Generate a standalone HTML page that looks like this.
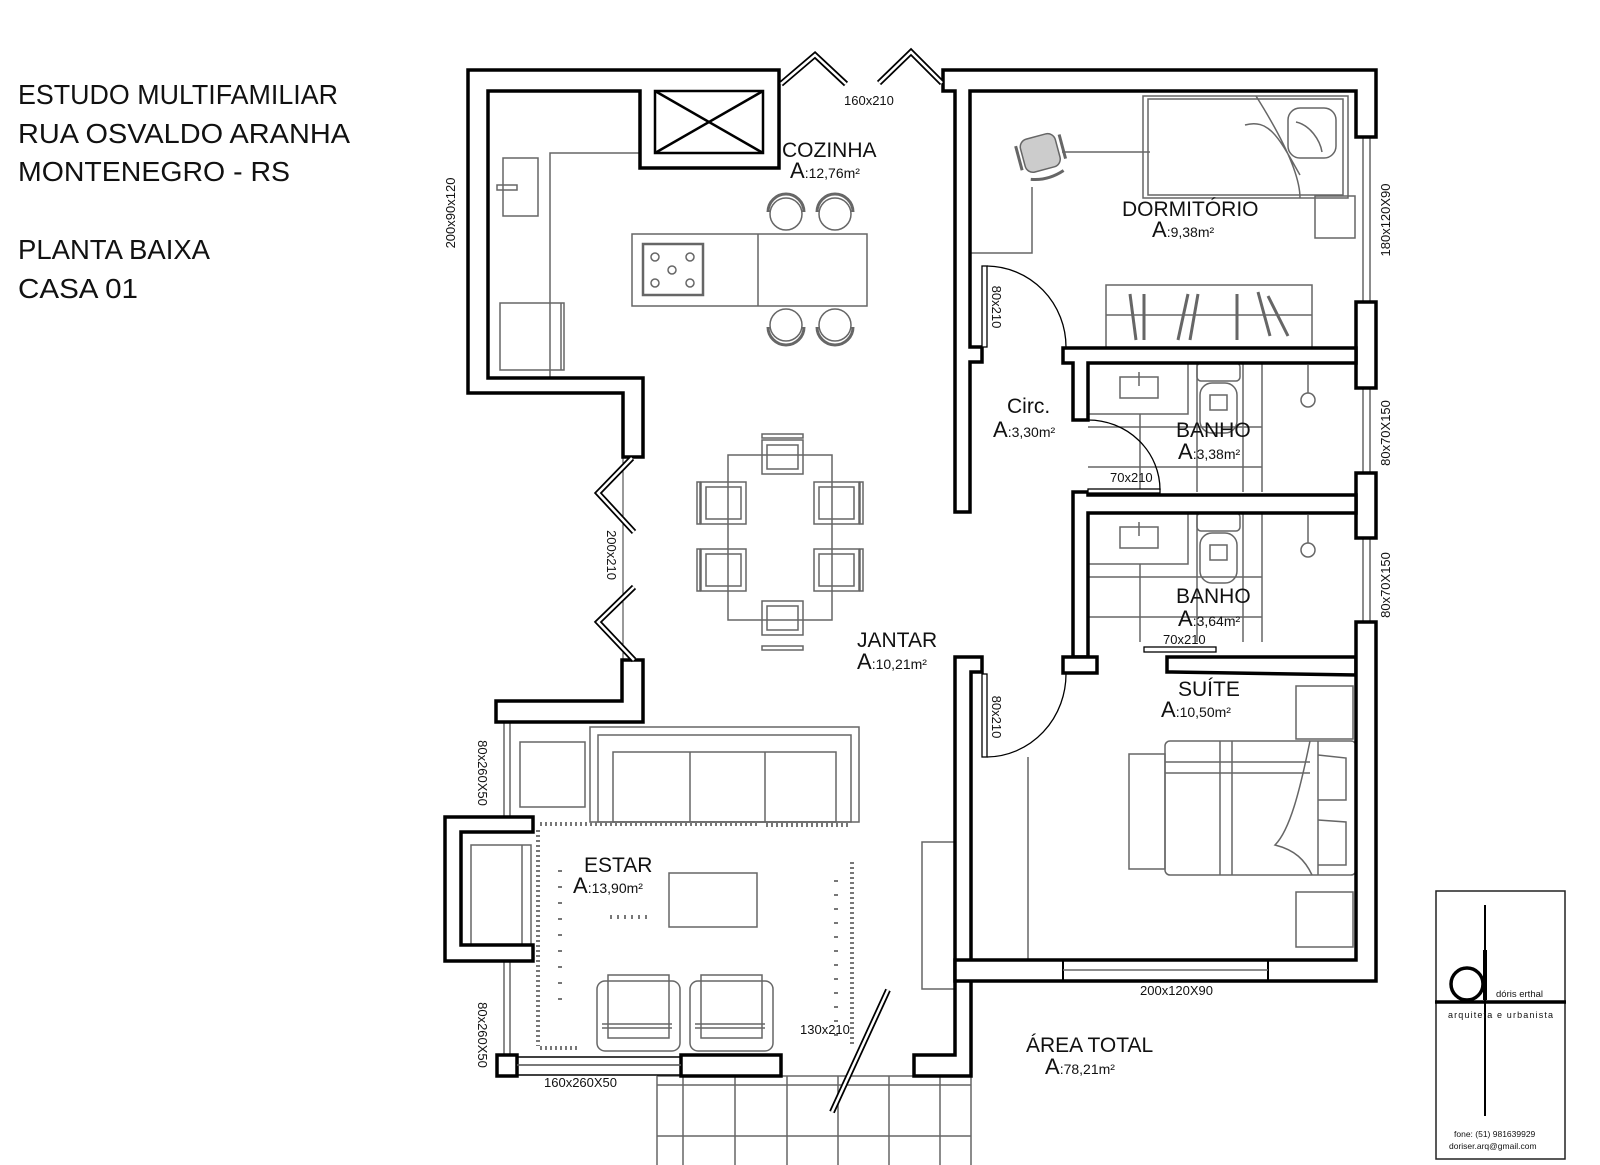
<!DOCTYPE html>
<html><head><meta charset="utf-8"><style>
html,body{margin:0;padding:0;background:#fff;}
svg{display:block}
text{font-family:"Liberation Sans",sans-serif;fill:#111}
</style></head><body>
<svg width="1600" height="1165" viewBox="0 0 1600 1165" xmlns="http://www.w3.org/2000/svg">
<!-- Title -->
<g font-size="28">
<text x="18" y="104" textLength="320" lengthAdjust="spacingAndGlyphs">ESTUDO MULTIFAMILIAR</text>
<text x="18" y="143" textLength="332" lengthAdjust="spacingAndGlyphs">RUA OSVALDO ARANHA</text>
<text x="18" y="181" textLength="272" lengthAdjust="spacingAndGlyphs">MONTENEGRO - RS</text>
<text x="18" y="259" textLength="192" lengthAdjust="spacingAndGlyphs">PLANTA BAIXA</text>
<text x="18" y="298" textLength="120" lengthAdjust="spacingAndGlyphs">CASA 01</text>
</g>

<!-- furniture (gray) -->
<g fill="none" stroke="#666" stroke-width="1.5">
<!-- kitchen -->
<polyline points="640,153 550,153 550,378"/>
<rect x="503" y="158" width="35" height="58"/>
<rect x="497" y="185" width="20" height="5"/>
<rect x="500" y="303" width="64" height="67"/>
<line x1="561" y1="303" x2="561" y2="370"/>
<rect x="632" y="234" width="235" height="72"/>
<line x1="758" y1="234" x2="758" y2="306"/>
<rect x="643" y="244" width="60" height="51" stroke-width="2.5"/>
<circle cx="655" cy="257" r="4"/><circle cx="690" cy="257" r="4"/><circle cx="672" cy="270" r="4"/><circle cx="655" cy="283" r="4"/><circle cx="690" cy="283" r="4"/>
<circle cx="786" cy="214" r="16"/><circle cx="835" cy="214" r="16"/>
<circle cx="786" cy="325" r="16"/><circle cx="835" cy="325" r="16"/>
<path d="M768,212 A18,18 0 0 1 804,212 M817,212 A18,18 0 0 1 853,212 M768,327 A18,18 0 0 0 804,327 M817,327 A18,18 0 0 0 853,327" stroke-width="3"/>
<line x1="476" y1="144" x2="476" y2="297"/><line x1="481" y1="144" x2="481" y2="297"/>
<!-- dining -->
<rect x="728" y="455" width="104" height="165"/>
<rect x="762" y="440" width="41" height="34"/><rect x="767" y="445" width="31" height="24"/><rect x="762" y="434" width="41" height="4"/>
<rect x="762" y="601" width="41" height="34"/><rect x="767" y="606" width="31" height="24"/><rect x="762" y="646" width="41" height="4"/>
<rect x="701" y="482" width="45" height="42"/><rect x="706" y="487" width="35" height="32"/><rect x="697" y="482" width="3" height="42"/>
<rect x="701" y="549" width="45" height="42"/><rect x="706" y="554" width="35" height="32"/><rect x="697" y="549" width="3" height="42"/>
<rect x="814" y="482" width="45" height="42"/><rect x="819" y="487" width="35" height="32"/><rect x="860" y="482" width="3" height="42"/>
<rect x="814" y="549" width="45" height="42"/><rect x="819" y="554" width="35" height="32"/><rect x="860" y="549" width="3" height="42"/>
<line x1="623" y1="458" x2="623" y2="660" stroke="#333" stroke-width="1"/>
<!-- living -->
<rect x="590" y="727" width="269" height="95"/>
<rect x="598" y="735" width="253" height="87"/>
<rect x="613" y="752" width="223" height="70"/>
<line x1="690" y1="752" x2="690" y2="822"/><line x1="765" y1="752" x2="765" y2="822"/>
<rect x="520" y="742" width="65" height="65"/>
<rect x="471" y="845" width="60" height="100"/>
<line x1="522" y1="845" x2="522" y2="945"/>
<rect x="669" y="873" width="88" height="54"/>
<rect x="597" y="981" width="83" height="70" rx="8"/><rect x="608" y="975" width="61" height="63"/><line x1="602" y1="1024" x2="672" y2="1024"/><line x1="602" y1="1028" x2="672" y2="1028"/>
<rect x="690" y="981" width="83" height="70" rx="8"/><rect x="701" y="975" width="61" height="63"/><line x1="695" y1="1024" x2="765" y2="1024"/><line x1="695" y1="1028" x2="765" y2="1028"/>
<rect x="922" y="842" width="33" height="147"/>
<line x1="504" y1="722" x2="504" y2="817"/><line x1="510" y1="722" x2="510" y2="817"/>
<line x1="504" y1="961" x2="504" y2="1055"/><line x1="510" y1="961" x2="510" y2="1055"/>
<line x1="517" y1="1065" x2="681" y2="1065"/>
<!-- patio -->
<line x1="657" y1="1085" x2="971" y2="1085"/><line x1="657" y1="1136" x2="971" y2="1136"/>
<line x1="657" y1="1076" x2="657" y2="1165"/><line x1="683" y1="1076" x2="683" y2="1165"/><line x1="735" y1="1076" x2="735" y2="1165"/><line x1="787" y1="1076" x2="787" y2="1165"/><line x1="838" y1="1076" x2="838" y2="1165"/><line x1="889" y1="1076" x2="889" y2="1165"/><line x1="940" y1="1076" x2="940" y2="1165"/><line x1="971" y1="1076" x2="971" y2="1165"/>
<line x1="657" y1="1076" x2="914" y2="1076"/>
<!-- bedroom -->
<rect x="1143" y="96" width="205" height="102"/>
<rect x="1148" y="99" width="195" height="96"/>
<path d="M1256,96 C1290,150 1300,180 1300,198 M1245,125 C1270,118 1280,140 1300,175"/>
<rect x="1288" y="108" width="48" height="50" rx="12"/>
<path d="M1296,122 C1310,125 1320,140 1322,152"/>
<rect x="1315" y="196" width="40" height="42"/>
<polyline points="970,253 1032,253 1032,187"/>
<line x1="1062" y1="152" x2="1150" y2="152"/>
<g transform="rotate(-15 1040 152)"><rect x="1022" y="136" width="36" height="34" rx="8" fill="#ccc"/><line x1="1018" y1="140" x2="1018" y2="165" stroke-width="3"/><line x1="1063" y1="140" x2="1063" y2="165" stroke-width="3"/><path d="M1024,176 Q1040,182 1058,176" stroke-width="3"/></g>
<rect x="1106" y="285" width="206" height="63"/>
<line x1="1106" y1="315" x2="1312" y2="315"/>
<g stroke-width="3"><line x1="1130" y1="294" x2="1136" y2="340"/><line x1="1144" y1="294" x2="1144" y2="340"/><line x1="1188" y1="294" x2="1178" y2="340"/><line x1="1198" y1="294" x2="1190" y2="340"/><line x1="1237" y1="294" x2="1237" y2="340"/><line x1="1258" y1="292" x2="1270" y2="336"/><line x1="1268" y1="296" x2="1288" y2="336"/></g>
<line x1="1363" y1="137" x2="1363" y2="302"/><line x1="1370" y1="137" x2="1370" y2="302"/>
<line x1="1363" y1="388" x2="1363" y2="473"/><line x1="1370" y1="388" x2="1370" y2="473"/>
<line x1="1363" y1="538" x2="1363" y2="622"/><line x1="1370" y1="538" x2="1370" y2="622"/>
<!-- baths -->
<g id="bath">
<rect x="1120" y="377" width="38" height="21"/><line x1="1139" y1="372" x2="1139" y2="386"/>
<polyline points="1088,414 1188,414 1188,363"/>
<line x1="1140" y1="414" x2="1140" y2="492"/><line x1="1197" y1="363" x2="1197" y2="492"/><line x1="1243" y1="363" x2="1243" y2="492"/><line x1="1262" y1="363" x2="1262" y2="492"/>
<line x1="1088" y1="427" x2="1262" y2="427"/><line x1="1088" y1="467" x2="1262" y2="467"/>
<rect x="1197" y="363" width="43" height="18" rx="4"/>
<rect x="1200" y="383" width="37" height="50" rx="12"/><rect x="1210" y="395" width="17" height="15"/>
<circle cx="1308" cy="400" r="7"/><line x1="1308" y1="365" x2="1308" y2="393"/>
</g>
<use href="#bath" transform="translate(0,150)"/>
<!-- suite -->
<rect x="1165" y="741" width="191" height="134" rx="5"/>
<rect x="1129" y="754" width="36" height="115"/>
<line x1="1165" y1="762" x2="1310" y2="762"/><line x1="1165" y1="773" x2="1310" y2="773"/>
<line x1="1220" y1="741" x2="1220" y2="875"/><line x1="1232" y1="741" x2="1232" y2="875"/>
<path d="M1310,741 C1300,790 1290,830 1275,845 C1295,850 1305,860 1312,875"/>
<path d="M1318,755 L1346,758 L1346,800 L1318,800 M1318,820 L1346,822 L1346,865 L1318,865"/>
<line x1="1318" y1="741" x2="1318" y2="875"/>
<rect x="1296" y="686" width="57" height="53"/>
<rect x="1296" y="892" width="57" height="55"/>
<line x1="1028" y1="757" x2="1028" y2="960"/>
<line x1="971" y1="960" x2="1028" y2="960"/>
<line x1="1063" y1="970" x2="1268" y2="970"/>
</g>

<!-- rug dots -->
<g fill="none" stroke="#777" stroke-width="4" stroke-dasharray="2 3">
<line x1="540" y1="824" x2="758" y2="824"/>
<line x1="766" y1="825" x2="850" y2="825"/>
<line x1="538" y1="830" x2="538" y2="1046"/>
<line x1="852" y1="862" x2="852" y2="1046"/>
<line x1="540" y1="1048" x2="580" y2="1048"/>
<line x1="560" y1="870" x2="560" y2="1000" stroke-dasharray="2 14"/>
<line x1="610" y1="917" x2="650" y2="917" stroke-dasharray="2 5"/>
<line x1="836" y1="880" x2="836" y2="1040" stroke-dasharray="2 12"/>
</g>

<!-- walls -->
<g fill="#fff" stroke="#000" stroke-width="3.5" stroke-linejoin="miter">
<polygon points="468,70 779,70 779,168 640,168 640,91 488,91 488,378 643,378 643,457 623,457 623,393 468,393"/>
<polygon points="622,660 643,660 643,722 496,722 496,701 622,701"/>
<polygon points="445,817 533,817 533,832 461,832 461,945 533,945 533,961 445,961"/>
<rect x="497" y="1055" width="20" height="21"/>
<rect x="681" y="1055" width="100" height="21"/>
<polygon points="955,657 982,657 982,672 971,672 971,1076 914,1076 914,1055 955,1055"/>
<polygon points="943,70 1376,70 1376,137 1356,137 1356,91 970,91 970,347 982,347 982,362 970,362 970,512 955,512 955,91 943,91"/>
<rect x="1356" y="302" width="20" height="86"/>
<polygon points="1063,348 1356,348 1356,363 1088,363 1088,420 1073,420 1073,363 1063,363"/>
<rect x="1356" y="473" width="20" height="65"/>
<polygon points="1073,492 1088,492 1088,495 1356,495 1356,513 1088,513 1088,657 1073,657"/>
<rect x="1063" y="657" width="34" height="16"/>
<polygon points="1167,657 1356,657 1356,675 1172,672 1167,672"/>
<polygon points="1356,622 1376,622 1376,981 955,981 955,960 1356,960"/>
</g>
<g fill="#fff" stroke="none"><rect x="1065" y="962" width="201" height="17"/></g>
<g stroke="#000" stroke-width="2"><line x1="1063" y1="960" x2="1063" y2="981"/><line x1="1268" y1="960" x2="1268" y2="981"/></g>
<line x1="1063" y1="970" x2="1268" y2="970" stroke="#666" stroke-width="1.5"/>
<rect x="1358" y="0" width="0" height="0"/>
<line x1="517" y1="1065" x2="681" y2="1065" stroke="#666" stroke-width="1.5"/>
<line x1="517" y1="1057" x2="681" y2="1057" stroke="#000" stroke-width="1.5"/>
<line x1="517" y1="1075" x2="681" y2="1075" stroke="#000" stroke-width="1.5"/>

<!-- X box -->
<g stroke="#000" stroke-width="2.5" fill="none">
<rect x="655" y="91" width="108" height="62"/>
<line x1="655" y1="91" x2="763" y2="153"/><line x1="763" y1="91" x2="655" y2="153"/>
</g>

<!-- doors -->
<g fill="none" stroke="#000" stroke-width="6" stroke-linejoin="miter">
<polyline points="781,84 815,55 846,84"/><polyline points="879,83 911,52 942,83"/>
<polyline points="632,458 598,493 634,532"/><polyline points="634,587 598,622 634,660"/>
<line x1="888" y1="990" x2="832" y2="1112"/>
</g>
<g fill="none" stroke="#fff" stroke-width="2.5">
<polyline points="781,84 815,55 846,84"/><polyline points="879,83 911,52 942,83"/>
<polyline points="632,458 598,493 634,532"/><polyline points="634,587 598,622 634,660"/>
<line x1="888" y1="990" x2="832" y2="1112"/>
</g>
<g fill="#fff" stroke="#000" stroke-width="1.3">
<rect x="982" y="266" width="5" height="81"/>
<rect x="982" y="674" width="5" height="83"/>
<rect x="1088" y="489" width="72" height="4"/>
<rect x="1144" y="647" width="72" height="5"/>
</g>
<g fill="none" stroke="#000" stroke-width="1.3">
<path d="M987,266 A80,81 0 0 1 1066,347"/>
<path d="M1066,673 A80,83 0 0 1 987,757"/>
<path d="M1088,420 A72,70 0 0 1 1160,490"/>
</g>

<!-- labels -->
<g font-size="21">
<text x="782" y="157">COZINHA</text>
<text x="1122" y="216">DORMITÓRIO</text>
<text x="1007" y="413">Circ.</text>
<text x="1176" y="437">BANHO</text>
<text x="1176" y="603">BANHO</text>
<text x="1178" y="696">SUÍTE</text>
<text x="857" y="647">JANTAR</text>
<text x="584" y="872">ESTAR</text>
<text x="1026" y="1052">ÁREA TOTAL</text>
</g>
<g font-size="22">
<text x="790" y="178">A<tspan font-size="14">:12,76m²</tspan></text>
<text x="1152" y="237">A<tspan font-size="14">:9,38m²</tspan></text>
<text x="993" y="437">A<tspan font-size="14">:3,30m²</tspan></text>
<text x="1178" y="459">A<tspan font-size="14">:3,38m²</tspan></text>
<text x="1178" y="626">A<tspan font-size="14">:3,64m²</tspan></text>
<text x="1161" y="717">A<tspan font-size="14">:10,50m²</tspan></text>
<text x="857" y="669">A<tspan font-size="14">:10,21m²</tspan></text>
<text x="573" y="893">A<tspan font-size="14">:13,90m²</tspan></text>
<text x="1045" y="1074">A<tspan font-size="14">:78,21m²</tspan></text>
</g>
<g font-size="13">
<text x="844" y="105">160x210</text>
<text x="1110" y="482">70x210</text>
<text x="1163" y="644">70x210</text>
<text x="800" y="1034">130x210</text>
<text x="544" y="1087">160x260X50</text>
<text x="1140" y="995">200x120X90</text>
<text transform="translate(455,213) rotate(-90)" text-anchor="middle">200x90x120</text>
<text transform="translate(1390,220) rotate(-90)" text-anchor="middle">180x120X90</text>
<text transform="translate(1390,433) rotate(-90)" text-anchor="middle">80x70X150</text>
<text transform="translate(1390,585) rotate(-90)" text-anchor="middle">80x70X150</text>
<text transform="translate(607,555) rotate(90)" text-anchor="middle">200x210</text>
<text transform="translate(992,307) rotate(90)" text-anchor="middle">80x210</text>
<text transform="translate(992,717) rotate(90)" text-anchor="middle">80x210</text>
<text transform="translate(478,773) rotate(90)" text-anchor="middle">80x260X50</text>
<text transform="translate(478,1035) rotate(90)" text-anchor="middle">80x260X50</text>
</g>

<!-- logo -->
<rect x="1436" y="891" width="129" height="268" fill="none" stroke="#222" stroke-width="1.5"/>
<line x1="1435" y1="1002" x2="1566" y2="1002" stroke="#000" stroke-width="3.5"/>
<line x1="1485" y1="905" x2="1485" y2="1116" stroke="#000" stroke-width="2"/>
<circle cx="1467" cy="984" r="16" fill="none" stroke="#000" stroke-width="3.5"/>
<line x1="1485" y1="950" x2="1485" y2="1000" stroke="#000" stroke-width="4"/>
<text x="1496" y="997" font-size="9.5">dóris erthal</text>
<text x="1448" y="1018" font-size="9" textLength="105" lengthAdjust="spacing">arquiteta  e  urbanista</text>
<text x="1454" y="1137" font-size="8.5">fone: (51) 981639929</text>
<text x="1449" y="1149" font-size="8.5">doriser.arq@gmail.com</text>
</svg>
</body></html>
